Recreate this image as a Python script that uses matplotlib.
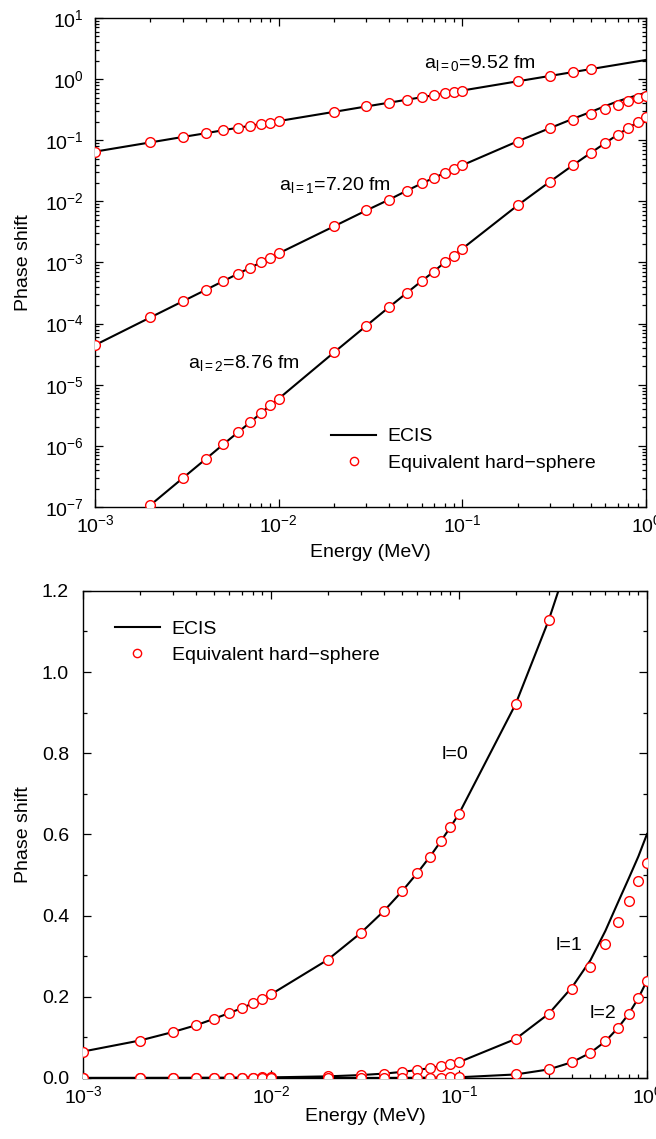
import numpy as np
import matplotlib
matplotlib.use("Agg")
import matplotlib.pyplot as plt
from matplotlib.ticker import LogLocator, MultipleLocator, NullFormatter
from matplotlib.legend_handler import HandlerLine2D

plt.rcParams['font.family'] = ['Liberation Sans', 'DejaVu Sans']
plt.rcParams['font.size'] = 14
plt.rcParams['mathtext.fontset'] = 'custom'
plt.rcParams['mathtext.rm'] = 'Liberation Sans'
plt.rcParams['mathtext.it'] = 'Liberation Sans:italic'
plt.rcParams['mathtext.bf'] = 'Liberation Sans:bold'

# energies (MeV)
energy = [0.001, 0.002, 0.003, 0.004, 0.005, 0.006, 0.007, 0.008, 0.009,
          0.01, 0.02, 0.03, 0.04, 0.05, 0.06, 0.07, 0.08, 0.09,
          0.1, 0.2, 0.3, 0.4, 0.5, 0.6, 0.7, 0.8, 0.9, 1.0]

# ECIS phase shifts
ecis_l0 = [0.0651, 0.0921, 0.113, 0.130, 0.146, 0.160, 0.172, 0.184, 0.195,
           0.206, 0.291, 0.357, 0.412, 0.461, 0.505, 0.545, 0.583, 0.618,
           0.651, 0.921, 1.128, 1.303, 1.457, 1.596, 1.723, 1.842, 1.954, 2.06]
ecis_l1 = [4.45e-5, 1.26e-4, 2.31e-4, 3.55e-4, 4.97e-4, 6.53e-4, 8.2e-4, 1.0e-3, 1.19e-3,
           1.41e-3, 3.9e-3, 7.1e-3, 1.07e-2, 1.5e-2, 1.96e-2, 2.42e-2, 2.9e-2, 3.4e-2,
           3.9e-2, 0.096, 0.158, 0.224, 0.290, 0.362, 0.432, 0.492, 0.546, 0.601]
ecis_l2 = [1.9e-8, 1.07e-7, 2.95e-7, 6.05e-7, 1.06e-6, 1.66e-6, 2.43e-6, 3.42e-6, 4.6e-6,
           5.9e-6, 3.37e-5, 9.2e-5, 1.87e-4, 3.2e-4, 4.96e-4, 7.1e-4, 1.0e-3, 1.3e-3,
           1.68e-3, 8.6e-3, 2.1e-2, 3.9e-2, 6.2e-2, 9.0e-2, 0.123, 0.158, 0.197, 0.240]

# equivalent hard-sphere phase shifts
hs_energy_l0 = energy[:23]
hs_l0 = ecis_l0[:23]
hs_l1 = [4.45e-5, 1.26e-4, 2.31e-4, 3.55e-4, 4.97e-4, 6.53e-4, 8.2e-4, 1.0e-3, 1.19e-3,
         1.41e-3, 3.9e-3, 7.1e-3, 1.07e-2, 1.5e-2, 1.96e-2, 2.42e-2, 2.9e-2, 3.4e-2,
         3.9e-2, 0.095, 0.157, 0.218, 0.273, 0.330, 0.384, 0.437, 0.485, 0.530]
hs_l2 = [1.9e-8, 1.07e-7, 2.95e-7, 6.05e-7, 1.06e-6, 1.66e-6, 2.43e-6, 3.42e-6, 4.6e-6,
         5.9e-6, 3.37e-5, 9.2e-5, 1.87e-4, 3.2e-4, 4.96e-4, 7.1e-4, 1.0e-3, 1.3e-3,
         1.68e-3, 8.6e-3, 2.1e-2, 3.9e-2, 6.2e-2, 9.0e-2, 0.123, 0.158, 0.197, 0.238]


class MarkerAtEnd(HandlerLine2D):
    # put the legend marker at the right end of the handle
    def get_xdata(self, legend, xdescent, ydescent, width, height, fontsize):
        xdata, _ = super().get_xdata(legend, xdescent, ydescent, width, height, fontsize)
        return xdata, np.array([-xdescent + width])


line_kw = dict(color='black', lw=1.5, zorder=2)
mark_kw = dict(ls='none', marker='o', ms=7.0, mfc='white', mec='red', mew=1.0, zorder=3)


def style(ax, ypad):
    for s in ax.spines.values():
        s.set_linewidth(1.0)
    ax.tick_params(which='both', direction='in', top=True, right=True, width=0.9)
    ax.tick_params(which='major', length=6)
    ax.tick_params(which='minor', length=3)
    ax.tick_params(axis='x', pad=5)
    ax.tick_params(axis='y', pad=ypad)


fig = plt.figure(figsize=(6.56, 11.39), dpi=100)

# panel 1: log-log
ax1 = fig.add_axes([0.1448, 0.5549, 0.8399, 0.4293])
l_ecis, = ax1.plot(energy, ecis_l0, **line_kw)
ax1.plot(energy, ecis_l1, **line_kw)
ax1.plot(energy, ecis_l2, **line_kw)
m_hs, = ax1.plot(hs_energy_l0, hs_l0, **mark_kw)
ax1.plot(energy, hs_l1, **mark_kw)
ax1.plot(energy, hs_l2, **mark_kw)
ax1.set_xscale('log')
ax1.set_yscale('log')
ax1.set_xlim(1e-3, 1)
ax1.set_ylim(1e-7, 1e1)
ax1.xaxis.set_major_locator(LogLocator(numticks=20))
ax1.xaxis.set_minor_locator(LogLocator(subs=np.arange(2, 10), numticks=20))
ax1.yaxis.set_major_locator(LogLocator(numticks=20))
ax1.yaxis.set_minor_locator(LogLocator(subs=np.arange(2, 10), numticks=20))
ax1.xaxis.set_minor_formatter(NullFormatter())
ax1.yaxis.set_minor_formatter(NullFormatter())
style(ax1, 8)
ax1.set_xlabel('Energy (MeV)')
ax1.set_ylabel('Phase shift')
ax1.xaxis.set_label_coords(0.5, -0.075)
ax1.yaxis.set_label_coords(-0.115, 0.5)
ax1.text(0.0618, 1.52, r'a$_{\mathregular{l=0}}$=9.52 fm')
ax1.text(0.0100, 0.0155, r'a$_{\mathregular{l=1}}$=7.20 fm')
ax1.text(0.00322, 1.87e-5, r'a$_{\mathregular{l=2}}$=8.76 fm')
ax1.legend([l_ecis, m_hs], ['ECIS', 'Equivalent hard\u2212sphere'],
           handler_map={m_hs: MarkerAtEnd()}, frameon=False, loc='upper left',
           bbox_to_anchor=(0.429, 0.162), borderaxespad=0, borderpad=0,
           handlelength=2.3, handletextpad=0.6, labelspacing=0.45, markerscale=0.85)

# panel 2: semilog x
ax2 = fig.add_axes([0.1265, 0.0536, 0.8598, 0.4276])
l_ecis2, = ax2.plot(energy, ecis_l0, **line_kw)
ax2.plot(energy, ecis_l1, **line_kw)
ax2.plot(energy, ecis_l2, **line_kw)
m_hs2, = ax2.plot(hs_energy_l0, hs_l0, **mark_kw)
ax2.plot(energy, hs_l1, **mark_kw)
ax2.plot(energy, hs_l2, **mark_kw)
ax2.set_xscale('log')
ax2.set_xlim(1e-3, 1)
ax2.set_ylim(0, 1.2)
ax2.xaxis.set_major_locator(LogLocator(numticks=20))
ax2.xaxis.set_minor_locator(LogLocator(subs=np.arange(2, 10), numticks=20))
ax2.xaxis.set_minor_formatter(NullFormatter())
ax2.yaxis.set_major_locator(MultipleLocator(0.2))
ax2.yaxis.set_minor_locator(MultipleLocator(0.1))
ax2.yaxis.set_major_formatter(plt.FormatStrFormatter('%.1f'))
style(ax2, 10)
ax2.set_xlabel('Energy (MeV)')
ax2.set_ylabel('Phase shift')
ax2.xaxis.set_label_coords(0.5, -0.062)
ax2.yaxis.set_label_coords(-0.09, 0.5)
ax2.text(0.0813, 0.798, 'l=0', va='center')
ax2.text(0.327, 0.326, 'l=1', va='center')
ax2.text(0.497, 0.160, 'l=2', va='center')
ax2.legend([l_ecis2, m_hs2], ['ECIS', 'Equivalent hard\u2212sphere'],
           handler_map={m_hs2: MarkerAtEnd()}, frameon=False, loc='upper left',
           bbox_to_anchor=(0.057, 0.94), borderaxespad=0, borderpad=0,
           handlelength=2.3, handletextpad=0.6, labelspacing=0.45, markerscale=0.85)

fig.savefig('out.png', dpi=100)
